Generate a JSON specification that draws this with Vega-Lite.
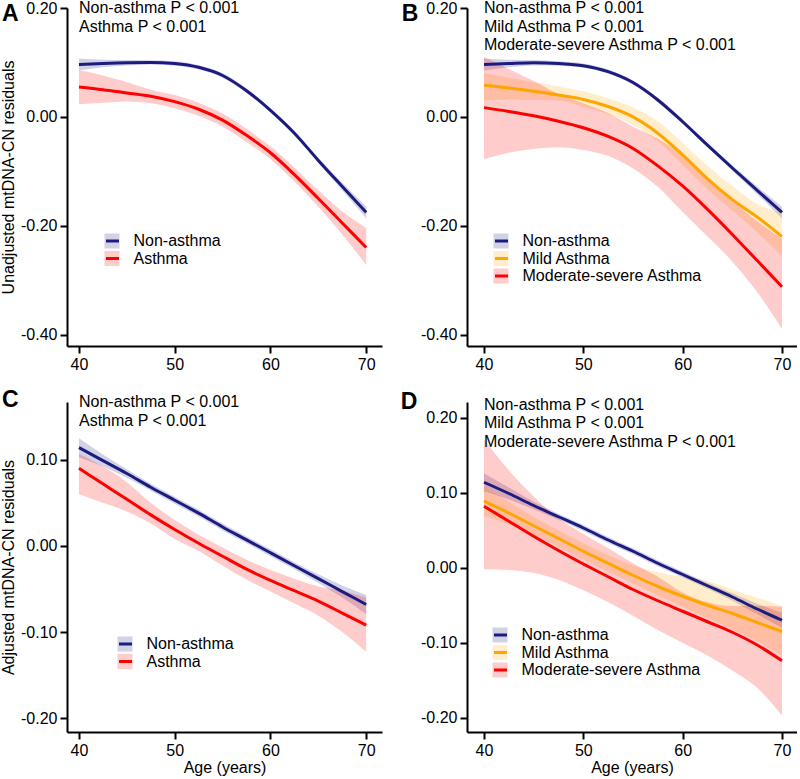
{
  "$schema": "https://vega.github.io/schema/vega-lite/v6.json",
  "background": "white",
  "padding": {"left": 0, "top": 0, "right": 0, "bottom": 0},
  "config": {
    "view": {"stroke": null},
    "font": "Liberation Sans",
    "axis": {
      "domainColor": "black", "domainWidth": 2, "tickColor": "black", "tickWidth": 2, "tickSize": 7,
      "labelFont": "Liberation Sans", "labelFontSize": 16, "labelColor": "black", "labelPadding": 3,
      "titleFont": "Liberation Sans", "titleFontSize": 16, "titleFontWeight": "normal", "titleColor": "black",
      "grid": false
    },
    "legend": {"padding": 0, "labelFont": "Liberation Sans", "labelFontSize": 16, "labelColor": "black", "rowPadding": 1.5, "labelLimit": 400}
  },
  "datasets": {
    "A": [
      {"group": "Non-asthma", "age": 40, "fit": 0.096, "lo": 0.085, "hi": 0.107},
      {"group": "Non-asthma", "age": 42.5, "fit": 0.098, "lo": 0.091, "hi": 0.105},
      {"group": "Non-asthma", "age": 45, "fit": 0.0995, "lo": 0.0945, "hi": 0.1045},
      {"group": "Non-asthma", "age": 47.5, "fit": 0.100, "lo": 0.096, "hi": 0.104},
      {"group": "Non-asthma", "age": 50, "fit": 0.098, "lo": 0.094, "hi": 0.102},
      {"group": "Non-asthma", "age": 52.5, "fit": 0.091, "lo": 0.087, "hi": 0.095},
      {"group": "Non-asthma", "age": 55, "fit": 0.076, "lo": 0.072, "hi": 0.080},
      {"group": "Non-asthma", "age": 57.5, "fit": 0.048, "lo": 0.044, "hi": 0.052},
      {"group": "Non-asthma", "age": 60, "fit": 0.012, "lo": 0.008, "hi": 0.016},
      {"group": "Non-asthma", "age": 62.5, "fit": -0.030, "lo": -0.034, "hi": -0.026},
      {"group": "Non-asthma", "age": 65, "fit": -0.080, "lo": -0.085, "hi": -0.075},
      {"group": "Non-asthma", "age": 67.5, "fit": -0.128, "lo": -0.135, "hi": -0.121},
      {"group": "Non-asthma", "age": 70, "fit": -0.1755, "lo": -0.1865, "hi": -0.1645},
      {"group": "Asthma", "age": 40, "fit": 0.055, "lo": 0.023, "hi": 0.086},
      {"group": "Asthma", "age": 42.5, "fit": 0.050, "lo": 0.026, "hi": 0.076},
      {"group": "Asthma", "age": 45, "fit": 0.044, "lo": 0.028, "hi": 0.064},
      {"group": "Asthma", "age": 47.5, "fit": 0.038, "lo": 0.025, "hi": 0.050},
      {"group": "Asthma", "age": 50, "fit": 0.028, "lo": 0.016, "hi": 0.040},
      {"group": "Asthma", "age": 52.5, "fit": 0.014, "lo": 0.002, "hi": 0.026},
      {"group": "Asthma", "age": 55, "fit": -0.006, "lo": -0.018, "hi": 0.006},
      {"group": "Asthma", "age": 57.5, "fit": -0.034, "lo": -0.046, "hi": -0.022},
      {"group": "Asthma", "age": 60, "fit": -0.066, "lo": -0.078, "hi": -0.054},
      {"group": "Asthma", "age": 62.5, "fit": -0.106, "lo": -0.119, "hi": -0.093},
      {"group": "Asthma", "age": 65, "fit": -0.150, "lo": -0.165, "hi": -0.135},
      {"group": "Asthma", "age": 67.5, "fit": -0.195, "lo": -0.216, "hi": -0.174},
      {"group": "Asthma", "age": 70, "fit": -0.240, "lo": -0.272, "hi": -0.204}
    ],
    "B": [
      {"group": "Non-asthma", "age": 40, "fit": 0.096, "lo": 0.085, "hi": 0.107},
      {"group": "Non-asthma", "age": 42.5, "fit": 0.098, "lo": 0.091, "hi": 0.105},
      {"group": "Non-asthma", "age": 45, "fit": 0.0995, "lo": 0.0945, "hi": 0.1045},
      {"group": "Non-asthma", "age": 47.5, "fit": 0.098, "lo": 0.094, "hi": 0.102},
      {"group": "Non-asthma", "age": 50, "fit": 0.094, "lo": 0.090, "hi": 0.098},
      {"group": "Non-asthma", "age": 52.5, "fit": 0.083, "lo": 0.079, "hi": 0.087},
      {"group": "Non-asthma", "age": 55, "fit": 0.063, "lo": 0.059, "hi": 0.067},
      {"group": "Non-asthma", "age": 57.5, "fit": 0.031, "lo": 0.027, "hi": 0.035},
      {"group": "Non-asthma", "age": 60, "fit": -0.009, "lo": -0.013, "hi": -0.005},
      {"group": "Non-asthma", "age": 62.5, "fit": -0.052, "lo": -0.056, "hi": -0.048},
      {"group": "Non-asthma", "age": 65, "fit": -0.094, "lo": -0.099, "hi": -0.089},
      {"group": "Non-asthma", "age": 67.5, "fit": -0.135, "lo": -0.142, "hi": -0.128},
      {"group": "Non-asthma", "age": 70, "fit": -0.1755, "lo": -0.1865, "hi": -0.1645},
      {"group": "Mild Asthma", "age": 40, "fit": 0.058, "lo": 0.030, "hi": 0.080},
      {"group": "Mild Asthma", "age": 42.5, "fit": 0.053, "lo": 0.032, "hi": 0.072},
      {"group": "Mild Asthma", "age": 45, "fit": 0.047, "lo": 0.031, "hi": 0.064},
      {"group": "Mild Asthma", "age": 47.5, "fit": 0.040, "lo": 0.030, "hi": 0.056},
      {"group": "Mild Asthma", "age": 50, "fit": 0.032, "lo": 0.018, "hi": 0.047},
      {"group": "Mild Asthma", "age": 52.5, "fit": 0.019, "lo": 0.005, "hi": 0.034},
      {"group": "Mild Asthma", "age": 55, "fit": 0.000, "lo": -0.015, "hi": 0.017},
      {"group": "Mild Asthma", "age": 57.5, "fit": -0.030, "lo": -0.045, "hi": -0.008},
      {"group": "Mild Asthma", "age": 60, "fit": -0.070, "lo": -0.088, "hi": -0.048},
      {"group": "Mild Asthma", "age": 62.5, "fit": -0.114, "lo": -0.133, "hi": -0.090},
      {"group": "Mild Asthma", "age": 65, "fit": -0.152, "lo": -0.172, "hi": -0.127},
      {"group": "Mild Asthma", "age": 67.5, "fit": -0.184, "lo": -0.212, "hi": -0.160},
      {"group": "Mild Asthma", "age": 70, "fit": -0.220, "lo": -0.256, "hi": -0.176},
      {"group": "Moderate-severe Asthma", "age": 40, "fit": 0.017, "lo": -0.078, "hi": 0.110},
      {"group": "Moderate-severe Asthma", "age": 42.5, "fit": 0.010, "lo": -0.066, "hi": 0.088},
      {"group": "Moderate-severe Asthma", "age": 45, "fit": 0.002, "lo": -0.059, "hi": 0.066},
      {"group": "Moderate-severe Asthma", "age": 47.5, "fit": -0.008, "lo": -0.056, "hi": 0.042},
      {"group": "Moderate-severe Asthma", "age": 50, "fit": -0.020, "lo": -0.061, "hi": 0.025},
      {"group": "Moderate-severe Asthma", "age": 52.5, "fit": -0.036, "lo": -0.072, "hi": 0.007},
      {"group": "Moderate-severe Asthma", "age": 55, "fit": -0.058, "lo": -0.095, "hi": -0.018},
      {"group": "Moderate-severe Asthma", "age": 57.5, "fit": -0.090, "lo": -0.129, "hi": -0.040},
      {"group": "Moderate-severe Asthma", "age": 60, "fit": -0.127, "lo": -0.175, "hi": -0.070},
      {"group": "Moderate-severe Asthma", "age": 62.5, "fit": -0.170, "lo": -0.220, "hi": -0.110},
      {"group": "Moderate-severe Asthma", "age": 65, "fit": -0.216, "lo": -0.266, "hi": -0.153},
      {"group": "Moderate-severe Asthma", "age": 67.5, "fit": -0.264, "lo": -0.322, "hi": -0.192},
      {"group": "Moderate-severe Asthma", "age": 70, "fit": -0.312, "lo": -0.390, "hi": -0.224}
    ],
    "C": [
      {"group": "Non-asthma", "age": 40, "fit": 0.114, "lo": 0.103, "hi": 0.125},
      {"group": "Non-asthma", "age": 42.5, "fit": 0.099, "lo": 0.092, "hi": 0.106},
      {"group": "Non-asthma", "age": 45, "fit": 0.084, "lo": 0.079, "hi": 0.089},
      {"group": "Non-asthma", "age": 47.5, "fit": 0.068, "lo": 0.064, "hi": 0.072},
      {"group": "Non-asthma", "age": 50, "fit": 0.053, "lo": 0.049, "hi": 0.057},
      {"group": "Non-asthma", "age": 52.5, "fit": 0.038, "lo": 0.034, "hi": 0.042},
      {"group": "Non-asthma", "age": 55, "fit": 0.022, "lo": 0.018, "hi": 0.026},
      {"group": "Non-asthma", "age": 57.5, "fit": 0.007, "lo": 0.003, "hi": 0.011},
      {"group": "Non-asthma", "age": 60, "fit": -0.008, "lo": -0.012, "hi": -0.004},
      {"group": "Non-asthma", "age": 62.5, "fit": -0.023, "lo": -0.027, "hi": -0.019},
      {"group": "Non-asthma", "age": 65, "fit": -0.038, "lo": -0.043, "hi": -0.033},
      {"group": "Non-asthma", "age": 67.5, "fit": -0.053, "lo": -0.060, "hi": -0.046},
      {"group": "Non-asthma", "age": 70, "fit": -0.068, "lo": -0.079, "hi": -0.057},
      {"group": "Asthma", "age": 40, "fit": 0.090, "lo": 0.060, "hi": 0.107},
      {"group": "Asthma", "age": 42.5, "fit": 0.072, "lo": 0.050, "hi": 0.092},
      {"group": "Asthma", "age": 45, "fit": 0.054, "lo": 0.040, "hi": 0.074},
      {"group": "Asthma", "age": 47.5, "fit": 0.036, "lo": 0.026, "hi": 0.050},
      {"group": "Asthma", "age": 50, "fit": 0.019, "lo": 0.008, "hi": 0.030},
      {"group": "Asthma", "age": 52.5, "fit": 0.003, "lo": -0.006, "hi": 0.013},
      {"group": "Asthma", "age": 55, "fit": -0.012, "lo": -0.023, "hi": -0.002},
      {"group": "Asthma", "age": 57.5, "fit": -0.027, "lo": -0.039, "hi": -0.016},
      {"group": "Asthma", "age": 60, "fit": -0.040, "lo": -0.053, "hi": -0.028},
      {"group": "Asthma", "age": 62.5, "fit": -0.052, "lo": -0.067, "hi": -0.038},
      {"group": "Asthma", "age": 65, "fit": -0.064, "lo": -0.081, "hi": -0.047},
      {"group": "Asthma", "age": 67.5, "fit": -0.078, "lo": -0.100, "hi": -0.052},
      {"group": "Asthma", "age": 70, "fit": -0.092, "lo": -0.123, "hi": -0.060}
    ],
    "D": [
      {"group": "Non-asthma", "age": 40, "fit": 0.114, "lo": 0.102, "hi": 0.126},
      {"group": "Non-asthma", "age": 42.5, "fit": 0.099, "lo": 0.091, "hi": 0.107},
      {"group": "Non-asthma", "age": 45, "fit": 0.083, "lo": 0.078, "hi": 0.088},
      {"group": "Non-asthma", "age": 47.5, "fit": 0.068, "lo": 0.064, "hi": 0.072},
      {"group": "Non-asthma", "age": 50, "fit": 0.053, "lo": 0.049, "hi": 0.057},
      {"group": "Non-asthma", "age": 52.5, "fit": 0.037, "lo": 0.033, "hi": 0.041},
      {"group": "Non-asthma", "age": 55, "fit": 0.022, "lo": 0.018, "hi": 0.026},
      {"group": "Non-asthma", "age": 57.5, "fit": 0.006, "lo": 0.002, "hi": 0.010},
      {"group": "Non-asthma", "age": 60, "fit": -0.009, "lo": -0.013, "hi": -0.005},
      {"group": "Non-asthma", "age": 62.5, "fit": -0.024, "lo": -0.028, "hi": -0.020},
      {"group": "Non-asthma", "age": 65, "fit": -0.039, "lo": -0.044, "hi": -0.034},
      {"group": "Non-asthma", "age": 67.5, "fit": -0.055, "lo": -0.062, "hi": -0.048},
      {"group": "Non-asthma", "age": 70, "fit": -0.070, "lo": -0.080, "hi": -0.060},
      {"group": "Mild Asthma", "age": 40, "fit": 0.089, "lo": 0.069, "hi": 0.109},
      {"group": "Mild Asthma", "age": 42.5, "fit": 0.073, "lo": 0.058, "hi": 0.088},
      {"group": "Mild Asthma", "age": 45, "fit": 0.056, "lo": 0.044, "hi": 0.068},
      {"group": "Mild Asthma", "age": 47.5, "fit": 0.039, "lo": 0.028, "hi": 0.050},
      {"group": "Mild Asthma", "age": 50, "fit": 0.022, "lo": 0.011, "hi": 0.033},
      {"group": "Mild Asthma", "age": 52.5, "fit": 0.006, "lo": -0.005, "hi": 0.017},
      {"group": "Mild Asthma", "age": 55, "fit": -0.010, "lo": -0.021, "hi": 0.003},
      {"group": "Mild Asthma", "age": 57.5, "fit": -0.025, "lo": -0.037, "hi": -0.006},
      {"group": "Mild Asthma", "age": 60, "fit": -0.038, "lo": -0.052, "hi": -0.012},
      {"group": "Mild Asthma", "age": 62.5, "fit": -0.050, "lo": -0.067, "hi": -0.018},
      {"group": "Mild Asthma", "age": 65, "fit": -0.061, "lo": -0.082, "hi": -0.029},
      {"group": "Mild Asthma", "age": 67.5, "fit": -0.073, "lo": -0.098, "hi": -0.040},
      {"group": "Mild Asthma", "age": 70, "fit": -0.085, "lo": -0.117, "hi": -0.051},
      {"group": "Moderate-severe Asthma", "age": 40, "fit": 0.082, "lo": -0.002, "hi": 0.171},
      {"group": "Moderate-severe Asthma", "age": 42.5, "fit": 0.062, "lo": -0.003, "hi": 0.130},
      {"group": "Moderate-severe Asthma", "age": 45, "fit": 0.042, "lo": -0.007, "hi": 0.095},
      {"group": "Moderate-severe Asthma", "age": 47.5, "fit": 0.023, "lo": -0.016, "hi": 0.066},
      {"group": "Moderate-severe Asthma", "age": 50, "fit": 0.005, "lo": -0.030, "hi": 0.045},
      {"group": "Moderate-severe Asthma", "age": 52.5, "fit": -0.012, "lo": -0.046, "hi": 0.026},
      {"group": "Moderate-severe Asthma", "age": 55, "fit": -0.029, "lo": -0.064, "hi": 0.006},
      {"group": "Moderate-severe Asthma", "age": 57.5, "fit": -0.044, "lo": -0.083, "hi": -0.012},
      {"group": "Moderate-severe Asthma", "age": 60, "fit": -0.058, "lo": -0.100, "hi": -0.033},
      {"group": "Moderate-severe Asthma", "age": 62.5, "fit": -0.072, "lo": -0.117, "hi": -0.046},
      {"group": "Moderate-severe Asthma", "age": 65, "fit": -0.086, "lo": -0.137, "hi": -0.051},
      {"group": "Moderate-severe Asthma", "age": 67.5, "fit": -0.103, "lo": -0.160, "hi": -0.051},
      {"group": "Moderate-severe Asthma", "age": 70, "fit": -0.124, "lo": -0.197, "hi": -0.052}
    ]
  },
  "columns": 2,
  "align": "each",
  "spacing": {"row": 17, "column": 18},
  "resolve": {"scale": {"fill": "independent", "stroke": "independent", "x": "independent", "y": "independent"}},
  "concat": [
    {
      "width": 315, "height": 338,
      "data": {"name": "A"},
      "layer": [
        {"mark": {"type": "area", "opacity": 0.2, "interpolate": "monotone"},
         "encoding": {
           "x": {"field": "age", "type": "quantitative", "scale": {"domain": [38.75, 71.65], "nice": false, "zero": false}, "axis": {"values": [40, 50, 60, 70], "title": null}},
           "y": {"field": "lo", "type": "quantitative", "scale": {"domain": [-0.421, 0.2], "nice": false, "zero": false}, "axis": {"values": [-0.4, -0.2, 0, 0.2], "labelExpr": "replace(format(datum.value, '.2f'), '\u2212', '-')", "title": "Unadjusted mtDNA-CN residuals", "titlePadding": 4}},
           "y2": {"field": "hi"},
           "fill": {"field": "group", "type": "nominal", "sort": ["Non-asthma", "Asthma"], "scale": {"range": ["#1c1c80", "#ff0000"]},
                    "legend": {"orient": "none", "legendX": 37, "legendY": 225, "title": null, "symbolType": "square", "symbolSize": 225, "symbolOpacity": 0.2, "symbolStrokeWidth": 0, "labelExpr": "''"}}
         }},
        {"mark": {"type": "line", "strokeWidth": 3, "interpolate": "monotone"},
         "encoding": {
           "x": {"field": "age", "type": "quantitative", "axis": {"values": [40, 50, 60, 70], "title": null}},
           "y": {"field": "fit", "type": "quantitative", "axis": {"values": [-0.4, -0.2, 0, 0.2], "labelExpr": "replace(format(datum.value, '.2f'), '\u2212', '-')", "title": "Unadjusted mtDNA-CN residuals", "titlePadding": 4}},
           "stroke": {"field": "group", "type": "nominal", "scale": {"domain": ["Non-asthma", "Asthma"], "range": ["#1c1c80", "#ff0000"]},
                      "legend": {"orient": "none", "legendX": 37.5, "legendY": 225, "title": null, "symbolType": "stroke", "symbolSize": 169, "symbolStrokeWidth": 3, "labelOffset": 13}}
         }},
        {"data": {"values": [{}]},
         "mark": {"type": "text", "align": "left", "baseline": "alphabetic", "fontSize": 16, "lineHeight": 18.5, "text": ["Non-asthma P < 0.001", "Asthma P < 0.001"]},
         "encoding": {"x": {"datum": 40}, "y": {"datum": 0.19}}},
        {"data": {"values": [{}]},
         "mark": {"type": "text", "align": "left", "baseline": "alphabetic", "fontSize": 23, "fontWeight": "bold", "text": "A"},
         "encoding": {"x": {"datum": 31.95}, "y": {"datum": 0.1756}}}
      ]
    },
    {
      "width": 330, "height": 338,
      "data": {"name": "B"},
      "layer": [
        {"mark": {"type": "area", "opacity": 0.2, "interpolate": "monotone"},
         "encoding": {
           "x": {"field": "age", "type": "quantitative", "scale": {"domain": [38.29, 71.51], "nice": false, "zero": false}, "axis": {"values": [40, 50, 60, 70], "title": null}},
           "y": {"field": "lo", "type": "quantitative", "scale": {"domain": [-0.421, 0.2], "nice": false, "zero": false}, "axis": {"values": [-0.4, -0.2, 0, 0.2], "labelExpr": "replace(format(datum.value, '.2f'), '\u2212', '-')", "title": null}},
           "y2": {"field": "hi"},
           "fill": {"field": "group", "type": "nominal", "sort": ["Non-asthma", "Mild Asthma", "Moderate-severe Asthma"], "scale": {"range": ["#1c1c80", "#ffa500", "#ff0000"]},
                    "legend": {"orient": "none", "legendX": 26, "legendY": 225, "title": null, "symbolType": "square", "symbolSize": 225, "symbolOpacity": 0.2, "symbolStrokeWidth": 0, "labelExpr": "''"}}
         }},
        {"mark": {"type": "line", "strokeWidth": 3, "interpolate": "monotone"},
         "encoding": {
           "x": {"field": "age", "type": "quantitative", "axis": {"values": [40, 50, 60, 70], "title": null}},
           "y": {"field": "fit", "type": "quantitative", "axis": {"values": [-0.4, -0.2, 0, 0.2], "labelExpr": "replace(format(datum.value, '.2f'), '\u2212', '-')", "title": null}},
           "stroke": {"field": "group", "type": "nominal", "scale": {"domain": ["Non-asthma", "Mild Asthma", "Moderate-severe Asthma"], "range": ["#1c1c80", "#ffa500", "#ff0000"]},
                      "legend": {"orient": "none", "legendX": 26.5, "legendY": 225, "title": null, "symbolType": "stroke", "symbolSize": 169, "symbolStrokeWidth": 3, "labelOffset": 13}}
         }},
        {"data": {"values": [{}]},
         "mark": {"type": "text", "align": "left", "baseline": "alphabetic", "fontSize": 16, "lineHeight": 18.5, "text": ["Non-asthma P < 0.001", "Mild Asthma P < 0.001", "Moderate-severe Asthma P < 0.001"]},
         "encoding": {"x": {"datum": 40}, "y": {"datum": 0.19}}},
        {"data": {"values": [{}]},
         "mark": {"type": "text", "align": "left", "baseline": "alphabetic", "fontSize": 23, "fontWeight": "bold", "text": "B"},
         "encoding": {"x": {"datum": 31.72}, "y": {"datum": 0.1756}}}
      ]
    },
    {
      "width": 315, "height": 330,
      "data": {"name": "C"},
      "layer": [
        {"mark": {"type": "area", "opacity": 0.2, "interpolate": "monotone"},
         "encoding": {
           "x": {"field": "age", "type": "quantitative", "scale": {"domain": [38.75, 71.65], "nice": false, "zero": false}, "axis": {"values": [40, 50, 60, 70], "title": "Age (years)", "titlePadding": 14.5, "titleBaseline": "alphabetic"}},
           "y": {"field": "lo", "type": "quantitative", "scale": {"domain": [-0.216, 0.167], "nice": false, "zero": false}, "axis": {"values": [-0.2, -0.1, 0, 0.1], "labelExpr": "replace(format(datum.value, '.2f'), '\u2212', '-')", "title": "Adjusted mtDNA-CN residuals", "titlePadding": 4}},
           "y2": {"field": "hi"},
           "fill": {"field": "group", "type": "nominal", "sort": ["Non-asthma", "Asthma"], "scale": {"range": ["#1c1c80", "#ff0000"]},
                    "legend": {"orient": "none", "legendX": 50, "legendY": 234, "title": null, "symbolType": "square", "symbolSize": 225, "symbolOpacity": 0.2, "symbolStrokeWidth": 0, "labelExpr": "''"}}
         }},
        {"mark": {"type": "line", "strokeWidth": 3, "interpolate": "monotone"},
         "encoding": {
           "x": {"field": "age", "type": "quantitative", "axis": {"values": [40, 50, 60, 70], "title": "Age (years)", "titlePadding": 14.5, "titleBaseline": "alphabetic"}},
           "y": {"field": "fit", "type": "quantitative", "axis": {"values": [-0.2, -0.1, 0, 0.1], "labelExpr": "replace(format(datum.value, '.2f'), '\u2212', '-')", "title": "Adjusted mtDNA-CN residuals", "titlePadding": 4}},
           "stroke": {"field": "group", "type": "nominal", "scale": {"domain": ["Non-asthma", "Asthma"], "range": ["#1c1c80", "#ff0000"]},
                      "legend": {"orient": "none", "legendX": 50.5, "legendY": 234, "title": null, "symbolType": "stroke", "symbolSize": 169, "symbolStrokeWidth": 3, "labelOffset": 13}}
         }},
        {"data": {"values": [{}]},
         "mark": {"type": "text", "align": "left", "baseline": "alphabetic", "fontSize": 16, "lineHeight": 18.5, "text": ["Non-asthma P < 0.001", "Asthma P < 0.001"]},
         "encoding": {"x": {"datum": 40}, "y": {"datum": 0.161}}},
        {"data": {"values": [{}]},
         "mark": {"type": "text", "align": "left", "baseline": "alphabetic", "fontSize": 23, "fontWeight": "bold", "text": "C"},
         "encoding": {"x": {"datum": 31.95}, "y": {"datum": 0.161}}}
      ]
    },
    {
      "width": 330, "height": 330,
      "data": {"name": "D"},
      "layer": [
        {"mark": {"type": "area", "opacity": 0.2, "interpolate": "monotone"},
         "encoding": {
           "x": {"field": "age", "type": "quantitative", "scale": {"domain": [38.29, 71.51], "nice": false, "zero": false}, "axis": {"values": [40, 50, 60, 70], "title": "Age (years)", "titlePadding": 14.5, "titleBaseline": "alphabetic"}},
           "y": {"field": "lo", "type": "quantitative", "scale": {"domain": [-0.219, 0.221], "nice": false, "zero": false}, "axis": {"values": [-0.2, -0.1, 0, 0.1, 0.2], "labelExpr": "replace(format(datum.value, '.2f'), '\u2212', '-')", "title": null}},
           "y2": {"field": "hi"},
           "fill": {"field": "group", "type": "nominal", "sort": ["Non-asthma", "Mild Asthma", "Moderate-severe Asthma"], "scale": {"range": ["#1c1c80", "#ffa500", "#ff0000"]},
                    "legend": {"orient": "none", "legendX": 25, "legendY": 225, "title": null, "symbolType": "square", "symbolSize": 225, "symbolOpacity": 0.2, "symbolStrokeWidth": 0, "labelExpr": "''"}}
         }},
        {"mark": {"type": "line", "strokeWidth": 3, "interpolate": "monotone"},
         "encoding": {
           "x": {"field": "age", "type": "quantitative", "axis": {"values": [40, 50, 60, 70], "title": "Age (years)", "titlePadding": 14.5, "titleBaseline": "alphabetic"}},
           "y": {"field": "fit", "type": "quantitative", "axis": {"values": [-0.2, -0.1, 0, 0.1, 0.2], "labelExpr": "replace(format(datum.value, '.2f'), '\u2212', '-')", "title": null}},
           "stroke": {"field": "group", "type": "nominal", "scale": {"domain": ["Non-asthma", "Mild Asthma", "Moderate-severe Asthma"], "range": ["#1c1c80", "#ffa500", "#ff0000"]},
                      "legend": {"orient": "none", "legendX": 25.5, "legendY": 225, "title": null, "symbolType": "stroke", "symbolSize": 169, "symbolStrokeWidth": 3, "labelOffset": 13}}
         }},
        {"data": {"values": [{}]},
         "mark": {"type": "text", "align": "left", "baseline": "alphabetic", "fontSize": 16, "lineHeight": 18.5, "text": ["Non-asthma P < 0.001", "Mild Asthma P < 0.001", "Moderate-severe Asthma P < 0.001"]},
         "encoding": {"x": {"datum": 40}, "y": {"datum": 0.2107}}},
        {"data": {"values": [{}]},
         "mark": {"type": "text", "align": "left", "baseline": "alphabetic", "fontSize": 23, "fontWeight": "bold", "text": "D"},
         "encoding": {"x": {"datum": 31.62}, "y": {"datum": 0.2116}}}
      ]
    }
  ]
}
